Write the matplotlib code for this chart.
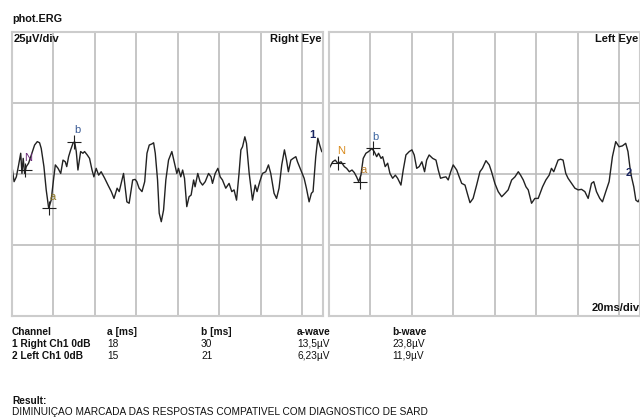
import matplotlib
matplotlib.use("Agg")
import matplotlib.pyplot as plt

plt.rcParams['font.family'] = ['Liberation Sans', 'DejaVu Sans']

# Right eye trace: time (ms) and amplitude (uV)
right_t = [0.0, 1.0, 2.1, 3.2, 4.2, 4.8, 5.4, 6.1, 6.9, 8.0, 9.6, 10.9, 12.2,
           13.3, 14.1, 15.4, 16.5, 17.7, 18.9, 20.1, 20.9, 22.2, 23.5, 24.6,
           25.7, 26.4, 27.3, 28.3, 29.4, 30.2, 31.0, 31.8, 33.1, 34.2, 35.0,
           36.3, 37.4, 38.6, 39.5, 40.6, 41.8, 43.0, 44.7, 46.3, 47.9, 49.2,
           50.7, 51.7, 53.8, 55.4, 56.5, 58.2, 59.4, 60.2, 61.3, 62.7, 64.0,
           65.1, 66.2, 67.5, 68.3, 69.1, 70.2, 71.0, 72.0, 73.1, 74.2, 75.5,
           77.1, 78.4, 79.5, 80.3, 81.4, 82.3, 83.2, 84.3, 85.4, 86.4, 87.6,
           88.3, 89.6, 90.7, 91.9, 93.2, 94.8, 96.0, 96.7, 98.0, 99.3, 100.4,
           101.5, 103.1, 104.7, 106.0, 107.1, 108.3, 109.5, 110.4, 111.2,
           112.3, 113.1, 114.4, 116.0, 117.3, 118.2, 119.5, 120.8, 122.4,
           123.7, 124.8, 126.4, 127.6, 128.8, 130.1, 131.4, 132.4, 133.3,
           134.5, 135.6, 136.9, 137.7, 139.3, 140.9, 142.0, 143.3, 144.4,
           145.2, 146.5, 147.5, 148.4, 149.4]
right_uv = [2.6, -2.7, -1.0, 3.2, 7.3, 0.2, 5.5, 0.2, 2.6, 3.8, 7.3, 10.2, 11.4,
            11.0, 9.0, 2.6, -5.6, -12.1, -9.2, -1.5, 3.2, 2.0, 0.2, 4.9,
            4.3, 2.6, 6.1, 8.5, 10.8, 11.4, 7.9, 1.4, 7.9, 7.3, 7.9,
            6.7, 5.5, 1.4, -1.0, 2.0, -0.4, 0.8, -1.5, -3.9, -6.2, -8.6,
            -5.0, -6.2, 0.2, -9.8, -10.3, -2.1, -1.9, -2.7, -5.0, -6.2, -2.7,
            7.3, 10.2, 10.6, 11.0, 7.3, -2.1, -13.8, -16.8, -12.7, -2.1, 4.9,
            7.9, 3.8, 0.2, 2.0, -1.0, 1.4, -1.5, -11.5, -8.0, -7.4, -2.1,
            -4.5, 0.2, -2.7, -3.9, -2.7, 0.2, -1.0, -3.3, 0.2, 2.0, -1.0,
            -2.1, -5.0, -3.3, -6.2, -5.6, -9.2, 0.2, 8.5, 9.6,
            13.1, 10.8, 0.2, -9.2, -3.9, -6.2, -2.7, 0.2, 0.8,
            3.2, 0.2, -6.8, -8.6, -5.0, 3.2, 8.5, 4.9, 0.8,
            4.9, 5.5, 6.1, 4.3, 1.4, -1.5, -5.0, -9.8, -6.8,
            -6.2, 6.1, 12.6, 10.2, 7.9]

# Left eye trace
left_t = [0.1, 1.8, 3.0, 4.2, 5.8, 7.4, 8.5, 9.8, 11.1, 12.2, 13.3, 14.3, 15.4,
          16.5, 17.8, 19.1, 20.7, 21.8, 23.0, 23.9, 25.1, 25.9, 27.1, 28.3,
          29.4, 30.7, 32.0, 33.1, 34.7, 35.8, 37.1, 38.7, 40.0, 41.1, 42.3,
          43.5, 44.8, 46.1, 47.1, 48.3, 50.0, 51.6, 52.7, 53.8, 55.1, 56.4,
          57.5, 58.7, 59.9, 61.6, 62.8, 64.0, 65.6, 66.7, 68.0, 69.5, 71.2,
          72.8, 74.0, 75.7, 77.3, 78.4, 80.0, 81.6, 83.3, 84.9, 86.4, 88.1,
          89.7, 91.3, 92.4, 93.7, 95.0, 96.1, 97.7, 99.3, 100.9, 103.0,
          104.6, 106.2, 107.3, 108.4, 110.5, 111.7, 112.9, 114.2, 115.3,
          117.0, 118.6, 120.2, 121.8, 123.4, 125.0, 126.6, 127.7, 129.0,
          130.6, 131.9, 133.5, 135.1, 136.7, 138.3, 139.9, 141.5, 143.1,
          144.2, 145.1, 145.9, 147.0, 148.0, 149.1, 149.9]
left_uv = [2.0, 4.3, 4.9, 3.8, 4.3, 2.6, 2.0, 0.8, 1.4, 0.5, -1.0, -2.7, -0.4,
           5.5, 7.3, 7.9, 9.0, 7.9, 6.1, 7.3, 5.5, 6.1, 2.6, 3.8,
           0.2, -1.5, -0.4, -1.5, -3.9, 1.4, 6.7, 7.9, 8.5, 6.7, 2.0,
           2.6, 4.3, 0.8, 4.9, 6.7, 5.5, 4.9, 1.4, -1.5, -1.2, -1.0,
           -2.1, 0.8, 3.2, 1.4, -1.0, -3.3, -3.9, -6.8, -10.1, -8.6, -3.9,
           0.8, 2.0, 4.7, 3.2, 0.8, -3.3, -6.2, -8.0, -6.8, -5.6, -2.1,
           -1.0, 0.8, -0.4, -2.1, -4.5, -5.6, -10.3, -8.6, -8.6, -4.5,
           -2.1, -0.4, 2.0, 0.8, 4.9, 5.2, 4.9, 0.2, -1.5,
           -3.3, -5.0, -5.6, -5.4, -6.2, -8.6, -3.3, -2.7, -6.2,
           -8.6, -9.8, -6.2, -2.7, 6.1, 11.4, 9.6, 9.9, 10.8,
           7.9, 2.6, -1.0, -4.5, -9.2, -9.8, -8.6]

# cursors: name -> (ms, uV)
right_marks = {'N': (6.3, 1.4), 'a': (18.0, -12.1), 'b': (30.0, 11.4)}
left_marks = {'N': (4.2, 4.0), 'a': (15.0, -2.7), 'b': (21.0, 9.0)}

# result table
channels = ["1 Right Ch1 0dB", "2 Left Ch1 0dB"]
a_ms = ["18", "15"]
b_ms = ["30", "21"]
a_wave = ["13,5\u00b5V", "6,23\u00b5V"]
b_wave = ["23,8\u00b5V", "11,9\u00b5V"]


def draw_panel(ax, t, uv, marks, mark_colors, eye, num, num_pos):
    ax.plot(t, uv, color='#222222', lw=1.0)
    ax.set_xlim(0, 150)
    ax.set_ylim(-50, 50)
    ax.set_xticks(range(0, 150, 20))
    ax.set_yticks([-50, -25, 0, 25, 50])
    ax.grid(True, color='#bcbcbc', lw=1.2)
    ax.set_axisbelow(True)
    ax.tick_params(length=0, labelbottom=False, labelleft=False)
    for s in ax.spines.values():
        s.set_color('#cccccc')
        s.set_linewidth(1.5)
    for name, (x, y) in marks.items():
        ax.plot(x, y, marker='+', ms=10, mew=0.8, color='#1e1e1e')
        ax.annotate(name, (x, y), xytext=(2.3, 8.5), textcoords='offset points',
                    ha='center', va='center', fontsize=8, color=mark_colors[name])
    ax.text(num_pos[0], num_pos[1], num, fontsize=8, fontweight='bold',
            color='#1a2560', ha='center', va='center')
    ax.text(0.995, 0.992, eye, transform=ax.transAxes, ha='right', va='top',
            fontsize=8, fontweight='bold', color='#111111')


fig = plt.figure(figsize=(6.4, 4.19), dpi=100)
ax_r = fig.add_axes([12 / 640, 1 - 316 / 419, 311 / 640, 284 / 419])
ax_l = fig.add_axes([329 / 640, 1 - 316 / 419, 311 / 640, 284 / 419])

draw_panel(ax_r, right_t, right_uv, right_marks,
           {'N': '#6a2a78', 'a': '#8a7420', 'b': '#3a5a94'},
           'Right Eye', '1', (145.0, 13.7))
draw_panel(ax_l, left_t, left_uv, left_marks,
           {'N': '#d88a1c', 'a': '#b87c2c', 'b': '#3a64a0'},
           'Left Eye', '2', (144.6, 0.5))

ax_r.text(0.005, 0.992, '25\u00b5V/div', transform=ax_r.transAxes, ha='left',
          va='top', fontsize=8, fontweight='bold', color='#111111')
ax_l.text(1.0, 0.012, '20ms/div', transform=ax_l.transAxes, ha='right',
          va='bottom', fontsize=8, fontweight='bold', color='#111111')

fig.text(12 / 640, 1 - 19 / 419, 'phot.ERG', fontsize=7.8, fontweight='bold',
         va='center', color='#111111')

cols = [12, 107, 201, 297, 392]
heads = ['Channel', 'a [ms]', 'b [ms]', 'a-wave', 'b-wave']
for x, h in zip(cols, heads):
    fig.text(x / 640, 1 - 332 / 419, h, fontsize=7.3, fontweight='bold',
             va='center', color='#111111')
rows = zip(channels, a_ms, b_ms, a_wave, b_wave)
for i, row in enumerate(rows):
    y = 1 - (344 + 11.5 * i) / 419
    for j, (x, val) in enumerate(zip(cols, row)):
        fig.text(x / 640, y, val, fontsize=7.3, va='center', color='#111111',
                 fontweight='bold' if j == 0 else 'normal')

fig.text(12 / 640, 1 - 401 / 419, 'Result:', fontsize=7.3, fontweight='bold',
         va='center', color='#111111')
fig.text(12 / 640, 1 - 412 / 419,
         'DIMINUI\u00c7AO MARCADA DAS RESPOSTAS COMPATIVEL COM DIAGNOSTICO DE SARD',
         fontsize=7.3, va='center', color='#111111')

fig.savefig('out.png', dpi=100)
